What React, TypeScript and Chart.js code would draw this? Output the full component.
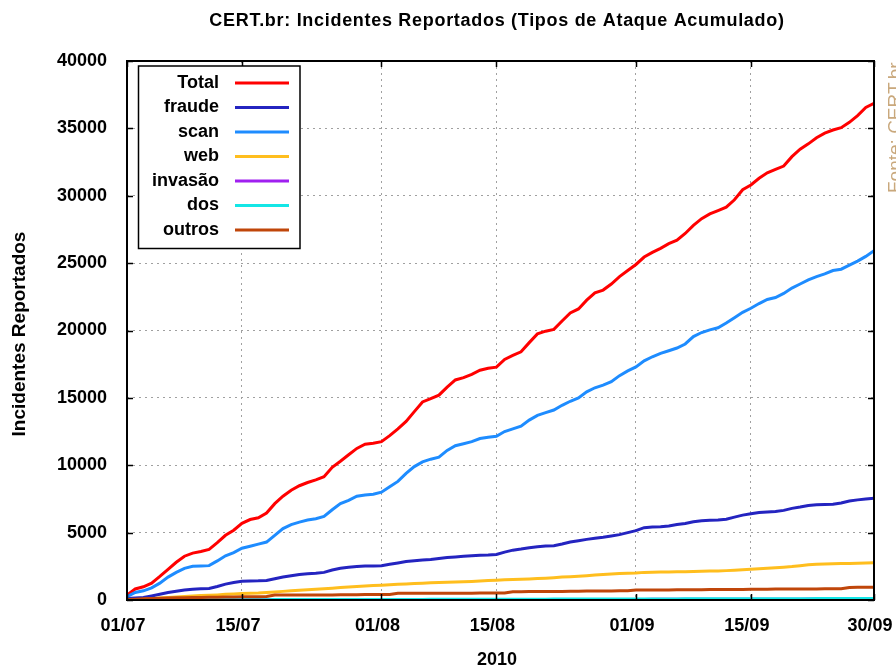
import React, { useEffect, useRef } from 'react';
import { Chart, registerables } from 'chart.js';

Chart.register(...registerables);

const titleText = 'CERT.br: Incidentes Reportados (Tipos de Ataque Acumulado)';
const yAxisTitle = 'Incidentes Reportados';
const xAxisTitle = '2010';
const sourceText = 'Fonte: CERT.br';

const tickDays = [0, 14, 31, 45, 62, 76, 91];
const tickLabels = ['01/07', '15/07', '01/08', '15/08', '01/09', '15/09', '30/09'];
const yTicks = [0, 5000, 10000, 15000, 20000, 25000, 30000, 35000, 40000];

const seriesNames = ['Total', 'fraude', 'scan', 'web', 'invasão', 'dos', 'outros'];
const seriesColors = ['#ff0000', '#2424c0', '#1e8cff', '#ffbe1e', '#a020f0', '#14e6e6', '#c0460a'];

const total = [
  370, 820, 980, 1250, 1750, 2280, 2800, 3250, 3480, 3600,
  3760, 4250, 4800, 5180, 5690, 5970, 6100, 6450, 7150, 7700,
  8150, 8480, 8720, 8920, 9150, 9850, 10300, 10780, 11250, 11560,
  11640, 11750, 12200, 12700, 13250, 13980, 14700, 14950, 15200, 15800,
  16330, 16500, 16750, 17050, 17200, 17280, 17850, 18150, 18420, 19100,
  19750, 19950, 20080, 20700, 21300, 21600, 22250, 22800, 23000, 23450,
  24000, 24450, 24900, 25450, 25800, 26100, 26450, 26700, 27200, 27800,
  28300, 28650, 28900, 29150, 29700, 30450, 30800, 31300, 31700, 31950,
  32200, 32900, 33450, 33850, 34300, 34650, 34880, 35050, 35450, 35950,
  36550, 36860,
];
const fraude = [
  120, 150, 180, 300, 420, 550, 650, 740, 800, 830,
  860, 1000, 1180, 1300, 1390, 1410, 1420, 1450, 1580, 1700,
  1800, 1900, 1950, 1980, 2050, 2230, 2350, 2430, 2480, 2520,
  2520, 2550, 2650, 2750, 2850, 2920, 2960, 3000, 3080, 3150,
  3200, 3250, 3290, 3320, 3340, 3380, 3550, 3700, 3780, 3880,
  3950, 4000, 4030, 4150, 4300, 4400, 4500, 4580, 4650, 4750,
  4850, 5000, 5150, 5370, 5420, 5440, 5500, 5600, 5680, 5800,
  5880, 5920, 5940, 6000, 6150, 6300, 6400, 6500, 6530, 6560,
  6650, 6800, 6900, 7020, 7060, 7090, 7110, 7200, 7350, 7430,
  7500, 7560,
];
const scan = [
  250, 560, 680, 900, 1250, 1700, 2050, 2350, 2500, 2520,
  2550, 2900, 3280, 3520, 3840, 3990, 4150, 4300, 4800, 5300,
  5600, 5780, 5930, 6030, 6200, 6700, 7150, 7400, 7700, 7800,
  7850, 8000, 8400, 8800, 9400, 9900, 10250, 10450, 10600, 11100,
  11450, 11600, 11750, 11980, 12080, 12150, 12500, 12700, 12900, 13350,
  13700, 13900, 14100, 14450, 14750, 15000, 15450, 15750, 15950, 16200,
  16650, 17000, 17300, 17750, 18050, 18300, 18500, 18700, 19000, 19550,
  19850, 20050, 20200, 20550, 20950, 21350, 21650, 22000, 22300, 22450,
  22750, 23150, 23450, 23750, 24000, 24200, 24450, 24550, 24850, 25150,
  25500, 25920,
];
const web = [
  20, 40, 60, 100, 140, 180, 220, 260, 300, 330,
  350, 380, 420, 450, 480, 500, 520, 560, 600, 640,
  680, 720, 760, 800, 830, 870, 920, 960, 1000, 1040,
  1070, 1100, 1130, 1160, 1190, 1220, 1250, 1280, 1300, 1320,
  1340, 1360, 1380, 1410, 1440, 1470, 1500, 1520, 1540, 1560,
  1590, 1620, 1660, 1700, 1730, 1760, 1800, 1850, 1890, 1930,
  1970, 1990, 2010, 2050, 2060, 2070, 2080, 2090, 2100, 2120,
  2140, 2150, 2160, 2180, 2210, 2250, 2280, 2310, 2350, 2390,
  2430, 2480, 2550, 2620, 2650, 2670, 2690, 2700, 2710, 2720,
  2740, 2770,
];
const invasao = [
  0, 0, 0, 0, 0, 5, 5, 5, 5, 5,
  5, 5, 10, 10, 10, 10, 10, 10, 10, 15,
  15, 15, 15, 15, 15, 20, 20, 20, 20, 20,
  20, 20, 25, 25, 25, 25, 25, 25, 30, 30,
  30, 30, 30, 30, 30, 35, 35, 35, 35, 35,
  35, 35, 40, 40, 40, 40, 40, 40, 45, 45,
  45, 45, 45, 45, 50, 50, 50, 50, 50, 50,
  55, 55, 55, 55, 55, 55, 60, 60, 60, 60,
  60, 60, 60, 65, 65, 65, 65, 65, 65, 70,
  70, 70,
];
const dos = [
  0, 0, 0, 0, 5, 5, 5, 10, 10, 10,
  10, 10, 15, 15, 15, 15, 20, 20, 30, 30,
  30, 30, 30, 35, 35, 35, 35, 40, 40, 40,
  40, 40, 40, 45, 45, 45, 45, 50, 50, 50,
  50, 50, 50, 55, 55, 55, 55, 60, 60, 60,
  60, 60, 65, 65, 65, 65, 70, 70, 70, 70,
  70, 75, 75, 75, 80, 80, 80, 80, 85, 85,
  85, 85, 90, 90, 90, 90, 95, 95, 95, 95,
  100, 100, 100, 100, 105, 105, 105, 105, 110, 110,
  110, 110,
];
const outros = [
  30, 60, 90, 110, 130, 150, 160, 170, 180, 190,
  200, 210, 220, 230, 240, 250, 250, 260, 370, 370,
  370, 370, 380, 380, 380, 380, 390, 390, 390, 400,
  400, 400, 410, 500, 500, 500, 500, 510, 510, 510,
  510, 510, 510, 520, 520, 520, 520, 620, 620, 630,
  630, 640, 640, 640, 650, 650, 660, 660, 670, 670,
  680, 690, 740, 740, 745, 750, 750, 755, 760, 760,
  765, 770, 770, 775, 780, 785, 800, 800, 805, 810,
  810, 815, 820, 820, 825, 830, 830, 835, 930, 940,
  940, 950,
];

const seriesValues = [total, fraude, scan, web, invasao, dos, outros];

const FONT = "'Liberation Sans', Arial, sans-serif";

const decorPlugin = {
  id: 'decor',
  afterDatasetsDraw(chart: any) {
    const { ctx, chartArea: a, scales } = chart;
    ctx.save();
    ctx.strokeStyle = '#000';
    ctx.lineWidth = 1.5;
    for (const t of scales.x.ticks) {
      const px = Math.round(scales.x.getPixelForValue(t.value)) + 0.5;
      ctx.beginPath();
      ctx.moveTo(px, a.bottom);
      ctx.lineTo(px, a.bottom - 6);
      ctx.moveTo(px, a.top);
      ctx.lineTo(px, a.top + 6);
      ctx.stroke();
    }
    for (const t of scales.y.ticks) {
      const py = Math.round(scales.y.getPixelForValue(t.value)) + 0.5;
      ctx.beginPath();
      ctx.moveTo(a.left, py);
      ctx.lineTo(a.left + 6, py);
      ctx.moveTo(a.right, py);
      ctx.lineTo(a.right - 6, py);
      ctx.stroke();
    }
    ctx.lineWidth = 2;
    ctx.strokeRect(a.left, a.top, a.right - a.left, a.bottom - a.top);
    ctx.restore();
  },
  afterDraw(chart: any) {
    const { ctx } = chart;
    ctx.save();
    // legend box
    const lx = 138.5, ly = 66, lw = 161.5, lh = 182.5;
    ctx.fillStyle = '#fff';
    ctx.fillRect(lx, ly, lw, lh);
    ctx.strokeStyle = '#000';
    ctx.lineWidth = 1.5;
    ctx.strokeRect(lx, ly, lw, lh);
    ctx.font = `bold 18px ${FONT}`;
    ctx.textAlign = 'right';
    ctx.textBaseline = 'middle';
    seriesNames.forEach((name, i) => {
      const y = 83 + i * 24.5;
      ctx.fillStyle = '#000';
      ctx.fillText(name, 219, y);
      ctx.strokeStyle = seriesColors[i];
      ctx.lineWidth = 3;
      ctx.beginPath();
      ctx.moveTo(235, y);
      ctx.lineTo(289, y);
      ctx.stroke();
    });
    // title
    ctx.fillStyle = '#000';
    ctx.textAlign = 'center';
    ctx.textBaseline = 'middle';
    ctx.font = `bold 18px ${FONT}`;
    try { (ctx as any).letterSpacing = '0.7px'; } catch (e) { /* ignore */ }
    ctx.fillText(titleText, 497, 21);
    try { (ctx as any).letterSpacing = '0px'; } catch (e) { /* ignore */ }
    // x axis title
    ctx.fillText(xAxisTitle, 497, 660);
    // y axis title
    ctx.save();
    ctx.translate(20, 334);
    ctx.rotate(-Math.PI / 2);
    ctx.font = `bold 19px ${FONT}`;
    ctx.fillText(yAxisTitle, 0, 0);
    ctx.restore();
    // source
    ctx.save();
    ctx.translate(886, 193);
    ctx.rotate(-Math.PI / 2);
    ctx.font = `19px ${FONT}`;
    ctx.fillStyle = '#c9a87c';
    ctx.textAlign = 'left';
    ctx.textBaseline = 'top';
    ctx.fillText(sourceText, 0, 0);
    ctx.restore();
    ctx.restore();
  },
};

export default function App() {
  const canvasRef = useRef<HTMLCanvasElement | null>(null);

  useEffect(() => {
    const canvas = canvasRef.current;
    if (!canvas) return;
    const tickFont = { family: FONT, size: 18, weight: 'bold' as const };
    const chart = new Chart(canvas, {
      type: 'line',
      data: {
        datasets: seriesNames.map((name, i) => ({
          label: name,
          data: seriesValues[i].map((v, d) => ({ x: d, y: v })),
          borderColor: seriesColors[i],
          backgroundColor: seriesColors[i],
          borderWidth: 3,
          pointRadius: 0,
          tension: 0,
          fill: false,
          order: seriesNames.length - 1 - i,
        })),
      },
      options: {
        animation: false,
        responsive: false,
        events: [],
        layout: { padding: { left: 0, top: 61, right: 22, bottom: 0 } },
        plugins: {
          legend: { display: false },
          title: { display: false },
          tooltip: { enabled: false },
        },
        scales: {
          x: {
            type: 'linear',
            min: tickDays[0],
            max: tickDays[tickDays.length - 1],
            afterBuildTicks: (s: any) => {
              s.ticks = tickDays.map((v) => ({ value: v }));
            },
            afterFit: (s: any) => {
              s.height = 68;
              s.paddingLeft = 0;
              s.paddingRight = 0;
            },
            grid: { color: '#a0a0a0', lineWidth: 1, drawTicks: false },
            border: { display: false, dash: [2, 4] },
            ticks: {
              autoSkip: false,
              maxRotation: 0,
              padding: 15,
              labelOffset: -4,
              color: '#000',
              font: tickFont,
              callback: (_v: any, i: number) => tickLabels[i],
            },
          },
          y: {
            min: 0,
            max: 40000,
            afterBuildTicks: (s: any) => {
              s.ticks = yTicks.map((v) => ({ value: v }));
            },
            afterFit: (s: any) => {
              s.width = 127;
              s.paddingTop = 0;
              s.paddingBottom = 0;
            },
            grid: { color: '#a0a0a0', lineWidth: 1, drawTicks: false },
            border: { display: false, dash: [2, 4] },
            ticks: {
              autoSkip: false,
              padding: 20,
              color: '#000',
              font: tickFont,
              callback: (v: any) => String(v),
            },
          },
        },
      },
      plugins: [decorPlugin],
    });
    return () => chart.destroy();
  }, []);

  return (
    <div style={{ position: 'fixed', left: 0, top: 0, width: 896, height: 668, background: '#fff' }}>
      <canvas ref={canvasRef} width={896} height={668} style={{ display: 'block' }} />
    </div>
  );
}
